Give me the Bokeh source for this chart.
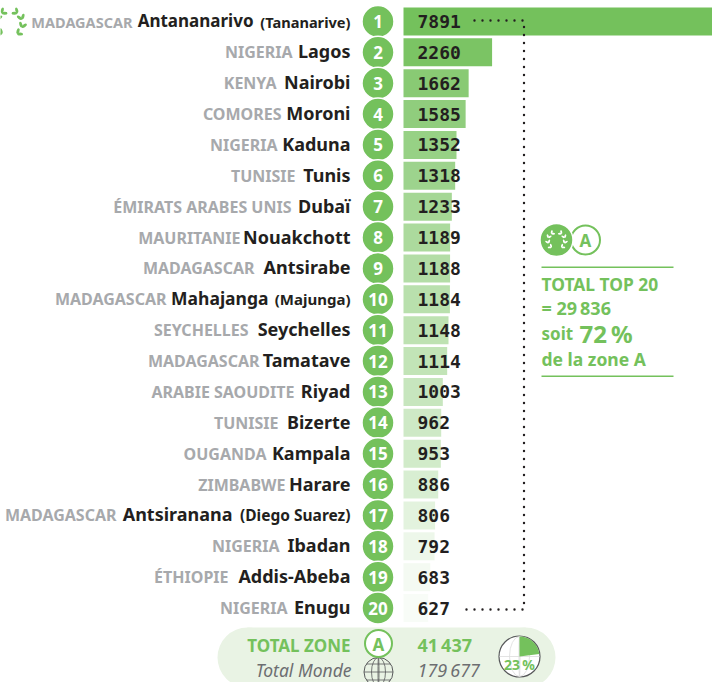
import numpy as np
from bokeh.plotting import figure
from bokeh.models import Range1d, ColumnDataSource
from bokeh.core.properties import value
from bokeh.embed import file_html
from bokeh.resources import INLINE

ranks = list(range(1, 21))
countries = ["MADAGASCAR", "NIGERIA", "KENYA", "COMORES", "NIGERIA", "TUNISIE", "ÉMIRATS ARABES UNIS", "MAURITANIE",
             "MADAGASCAR", "MADAGASCAR", "SEYCHELLES", "MADAGASCAR", "ARABIE SAOUDITE", "TUNISIE", "OUGANDA",
             "ZIMBABWE", "MADAGASCAR", "NIGERIA", "ÉTHIOPIE", "NIGERIA"]
cities = ["Antananarivo", "Lagos", "Nairobi", "Moroni", "Kaduna", "Tunis", "Dubaï", "Nouakchott", "Antsirabe",
          "Mahajanga", "Seychelles", "Tamatave", "Riyad", "Bizerte", "Kampala", "Harare", "Antsiranana", "Ibadan",
          "Addis-Abeba", "Enugu"]
notes = ["(Tananarive)", "", "", "", "", "", "", "", "", "(Majunga)", "", "", "", "", "", "", "(Diego Suarez)", "", "", ""]
values = [7891, 2260, 1662, 1585, 1352, 1318, 1233, 1189, 1188, 1184, 1148, 1114, 1003, 962, 953, 886, 806, 792, 683, 627]
bar_alpha = [1, .95, .85, .8, .75, .7, .65, .6, .55, .5, .47, .44, .4, .35, .33, .28, .2, .13, .08, .05]
city_left = [138, 298, 282, 287, 283, 301, 297, 246, 260, 172, 254, 265, 300, 284, 272, 291, 122, 285, 234, 293]
city_right = [253, 350, 350, 350, 350, 350, 350, 350, 350, 268, 350, 350, 350, 350, 350, 350, 232, 350, 350, 350]
city_size = ["17px"] + ["18px"] * 8 + ["17.5px"] + ["18px"] * 10
country_size = ["14.5px"] + ["16px"] * 19
note_size = ["14.6px"] + ["14px"] * 8 + ["15px"] + ["14px"] * 6 + ["15.5px"] + ["14px"] * 3

GREEN = "#74c15c"
DARK = "#231f20"
GREY = "#a7a9ac"
MONO = "DejaVu Sans Mono"
SANS = "Noto Sans"

p = figure(width=712, height=682, x_range=Range1d(0, 712), y_range=Range1d(682, 0),
           output_backend="svg", toolbar_location=None, min_border=0, outline_line_color=None,
           background_fill_color="white", border_fill_color="white")
p.xaxis.visible = False
p.yaxis.visible = False
p.grid.visible = False

# value and rank scales, pixel ranges are the default ones
kx, x0 = 0.0392, 403
step, y1 = 30.87, 21
p.extra_x_ranges["val"] = Range1d((0 - x0) / kx, (712 - x0) / kx)
p.extra_y_ranges["rank"] = Range1d(1 + (682 - y1) / step, 1 + (0 - y1) / step)


def txt(x, y, s, size, color=DARK, font=SANS, style="bold", align="left"):
    p.text([x], [y], text=[s], text_font=value(font), text_font_size=f"{size}px", text_font_style=style,
           text_color=color, text_align=align, text_baseline="middle")


src = ColumnDataSource(dict(rank=ranks, v=values, a=bar_alpha, label=[str(v) for v in values],
                            country=countries, city=cities, note=notes,
                            cs=city_size, ks=country_size, ns=note_size,
                            cx=[c - 6 for c in city_left], cl=city_right, num=[str(r) for r in ranks],
                            nx=[417] * 20, cc=[377.5] * 20, rx=[350] * 20))

# bars
p.hbar(y="rank", left=0, right="v", height=0.907, source=src, fill_color=GREEN, fill_alpha="a", line_color=None,
       x_range_name="val", y_range_name="rank")

# dotted connector
p.line([474, 523.5, 523.5, 462], [20, 20, 609, 609], line_color=DARK, line_width=2.4, line_dash="0 8",
       line_cap="round")

# rank discs
p.scatter(x="cc", y="rank", size=32, marker="circle", source=src, fill_color=GREEN, line_color="white",
          line_width=1.5, y_range_name="rank")
p.text(x="cc", y="rank", text="num", source=src, text_font=value(SANS), text_font_size="17px",
       text_font_style="bold", text_color="white", text_align="center", text_baseline="middle",
       y_range_name="rank")

# labels
p.text(x="nx", y="rank", text="label", source=src, text_font=value(MONO), text_font_size="18px",
       text_font_style="bold", text_color=DARK, text_baseline="middle", y_range_name="rank")
p.text(x="cl", y="rank", text="city", source=src, text_font=value(SANS), text_font_size={"field": "cs"},
       text_font_style="bold", text_color=DARK, text_align="right", text_baseline="middle", y_offset=-1,
       y_range_name="rank")
p.text(x="cx", y="rank", text="country", source=src, text_font=value(SANS), text_font_size={"field": "ks"},
       text_font_style="bold", text_color=GREY, text_align="right", text_baseline="middle",
       y_range_name="rank")
p.text(x="rx", y="rank", text="note", source=src, text_font=value(SANS), text_font_size={"field": "ns"},
       text_font_style="bold", text_color=DARK, text_align="right", text_baseline="middle",
       y_range_name="rank")


def wreath(cx, cy, r, color, leaf):
    for t in np.radians([-52, -18, 18, 54]):
        ax, ay = r * np.cos(t), r * np.sin(t)
        th = np.pi / 2 - t
        for d in (-0.65, 0.65):
            a = th + d
            ox, oy = ax + np.cos(a) * leaf / 2, ay - np.sin(a) * leaf / 2
            p.ellipse([cx + ox, cx - ox], [cy + oy, cy + oy], width=leaf, height=leaf * 0.5,
                      angle=[a, np.pi - a], fill_color=color, line_color=None)


wreath(9, 23, 13, GREEN, 6)

# side panel
p.scatter([585], [239.5], size=29, marker="circle", fill_color="white", line_color=GREEN, line_width=2)
p.scatter([556], [239.5], size=33, marker="circle", fill_color=GREEN, line_color="white", line_width=1.5)
wreath(556, 240, 8.5, "white", 3.8)
txt(585, 240, "A", 17, GREEN, align="center")
p.line([541, 673], [266.7, 266.7], line_color=GREEN, line_width=1.6)
p.line([541, 673], [375.7, 375.7], line_color=GREEN, line_width=1.6)
txt(541, 283, "TOTAL TOP 20", 17.4, GREEN)
txt(541, 307, "= 29\u2009836", 18, GREEN)
txt(541, 333, "soit", 17, GREEN)
txt(579, 333, "72\u2009%", 24, GREEN)
txt(541, 358, "de la zone A", 17.5, GREEN)

# bottom pill
pill = "#e9f3e4"
p.quad(left=[247], right=[525], top=[627], bottom=[687], fill_color=pill, line_color=None)
p.circle([247, 525], [657, 657], radius=30, fill_color=pill, line_color=None)
txt(350, 645, "TOTAL ZONE", 17, GREEN, align="right")
txt(351, 669, "Total Monde", 17.5, "#6d6e71", style="italic", align="right")

# globe
G = "#58595b"
p.circle([378], [671.5], radius=14.5, fill_color=None, line_color=G, line_width=1)
p.ellipse([378, 378], [671.5, 671.5], width=[14, 1], height=[29, 29], fill_color=None, line_color=G, line_width=0.8)
for dy in (-8, 0, 8):
    hw = (14.5 ** 2 - dy ** 2) ** 0.5
    p.line([378 - hw, 378 + hw], [671.5 + dy, 671.5 + dy], line_color=G, line_width=0.8)
p.scatter([378], [643], size=27, marker="circle", fill_color="white", line_color=GREEN, line_width=2)
txt(378, 644, "A", 17, GREEN, align="center")

txt(417, 644.5, "41\u2009437", 18, GREEN)
txt(417, 669, "179\u2009677", 18, "#6d6e71", style="italic")

# share disc
share = 23
p.circle([519], [656], radius=20.5, fill_color="white", line_color=G, line_width=1.2)
p.ellipse([519, 519], [656, 656], width=[20, 1], height=[40, 40], fill_color=None, line_color="#dcdcdc", line_width=0.8)
p.line([499, 539], [656, 656], line_color="#dcdcdc", line_width=0.8)
p.wedge([519], [656], radius=20, start_angle=np.pi / 2, end_angle=np.pi / 2 - 2 * np.pi * share / 100,
        direction="clock", fill_color=GREEN, line_color=None)
txt(519, 664, f"{share}\u2009%", 14, GREEN, align="center")

open("out.html", "w").write(file_html(p, INLINE))
